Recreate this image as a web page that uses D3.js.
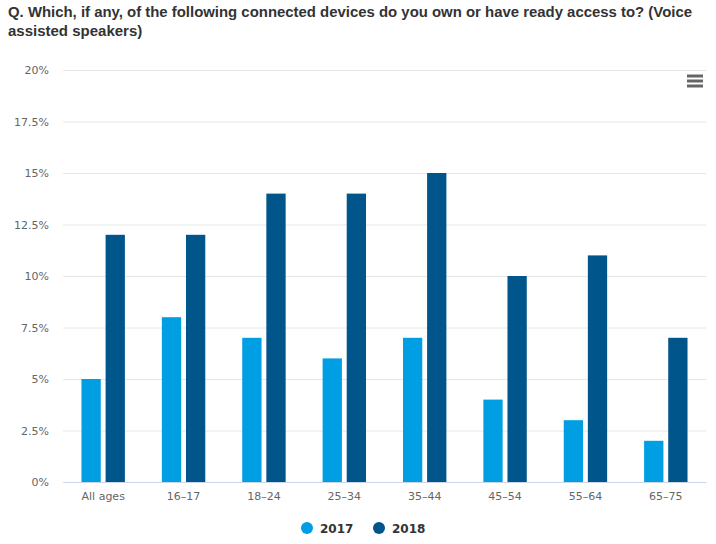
<!DOCTYPE html>
<html><head><meta charset="utf-8">
<script src="https://cdn.jsdelivr.net/npm/d3@7"></script>
<style>body{margin:0;background:#fff}</style>
</head><body>
<svg id="chart" width="716" height="544"></svg>
<script>
const categories = ["All ages","16–17","18–24","25–34","35–44","45–54","55–64","65–75"];
const seriesNames = ["2017","2018"];
const values2017 = [5,8,7,6,7,4,3,2];
const values2018 = [12,12,14,14,15,10,11,7];
const yTicks = [0,2.5,5,7.5,10,12.5,15,17.5,20];
const colors = ["#009fe3","#00558b"];
const titleLines = ["Q. Which, if any, of the following connected devices do you own or have ready access to? (Voice","assisted speakers)"];

(function(){
const svg = d3.select("#chart");
const pLeft = 63, pRight = 706, pTop = 70, pBottom = 482;

const x = d3.scaleBand().domain(categories).range([pLeft, pRight]).paddingInner(0).paddingOuter(0);
const y = d3.scaleLinear().domain([0,20]).range([pBottom, pTop]);

// title
const t = svg.append("text").attr("font-family","Liberation Sans, Arial, sans-serif")
  .attr("font-weight","bold").attr("font-size",15).attr("fill","#333");
titleLines.forEach((l,i)=> {
  const ts = t.append("tspan").attr("x",8).attr("y",17+i*18.5).text(l);
  if (i===0) ts.attr("textLength",684).attr("lengthAdjust","spacingAndGlyphs");
});

// grid
const yAxis = d3.axisLeft(y).tickValues(yTicks).tickSize(-(pRight-pLeft)).tickFormat(d=>d+"%");
const gy = svg.append("g").attr("transform",`translate(${pLeft},0)`).call(yAxis);
gy.select(".domain").remove();
gy.selectAll(".tick line").attr("stroke","#e6e6e6");
gy.selectAll(".tick text").attr("x",-14).attr("dy","0.32em")
  .attr("font-family","DejaVu Sans, sans-serif").attr("font-size",11).attr("fill","#666");

// bars
const group = x.bandwidth()*0.2;
const pw = (x.bandwidth()-2*group)/2;
const pp = pw*0.1;
const data = [values2017, values2018];
data.forEach((vals,si)=>{
  svg.append("g").selectAll("rect").data(categories).join("rect")
    .attr("x",(c)=>x(c)+group+si*pw+pp)
    .attr("width",pw-2*pp)
    .attr("y",(c,i)=>y(vals[i]))
    .attr("height",(c,i)=>y(0)-y(vals[i]))
    .attr("fill",colors[si]);
});

// x axis
const xAxis = d3.axisBottom(x).tickSize(0);
const gx = svg.append("g").attr("transform",`translate(0,${pBottom})`).call(xAxis);
gx.select(".domain").attr("stroke","#ccd6eb");
gx.selectAll(".tick text").attr("dy",0).attr("y",18)
  .attr("font-family","DejaVu Sans, sans-serif").attr("font-size",11).attr("fill","#666");

// legend
const legendX = [307, 379];
seriesNames.forEach((s,i)=>{
  svg.append("circle").attr("cx",legendX[i]).attr("cy",528).attr("r",6).attr("fill",colors[i]);
  svg.append("text").attr("x",legendX[i]+13).attr("y",533).text(s)
    .attr("font-family","DejaVu Sans, sans-serif").attr("font-weight","bold").attr("font-size",12).attr("fill","#333");
});

// menu icon
[0,1,2].forEach(i=>{
  svg.append("line").attr("x1",687).attr("x2",703).attr("y1",76+i*5).attr("y2",76+i*5)
    .attr("stroke","#666").attr("stroke-width",3);
});
})();
</script>
</body></html>
